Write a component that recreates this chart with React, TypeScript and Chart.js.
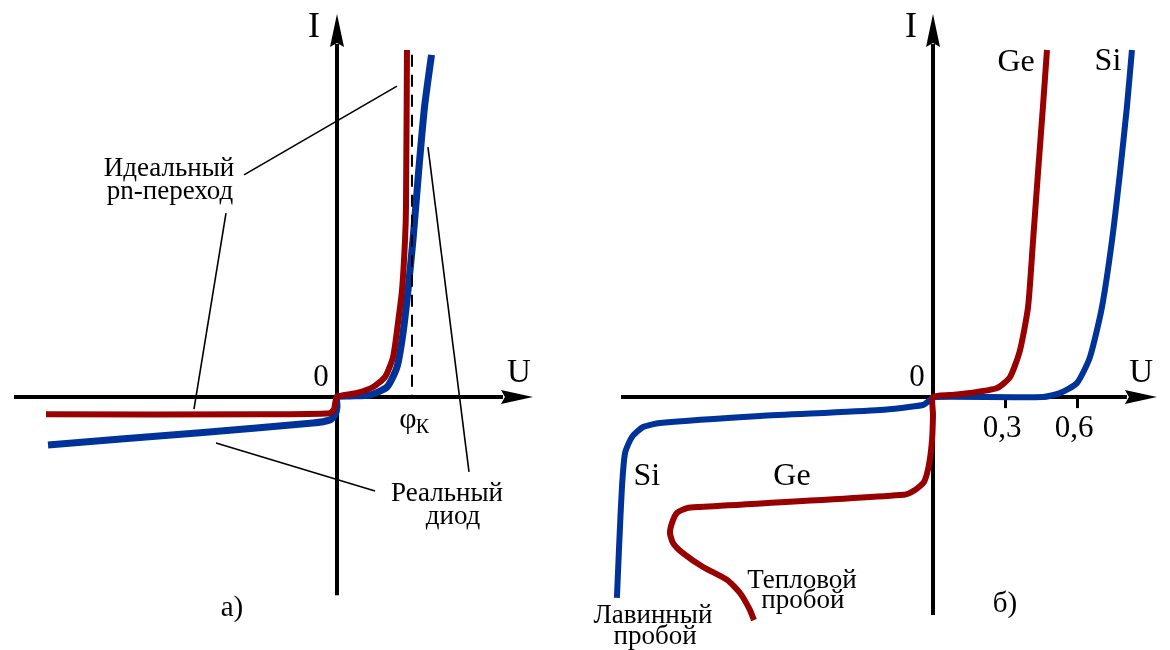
import React, { useEffect, useRef } from "react";
import { Chart, registerables } from "chart.js";

Chart.register(...registerables);

// ---------- Panel а) : ideal pn-junction vs real diode (U in units of φк, I arbitrary) ----------
const idealU = [-3.88, -1.0, -0.1, -0.04, 0, 0.267, 0.48, 0.64, 0.747, 0.813, 0.867, 0.907, 0.92, 0.933];
const idealI = [-5.0, -5.0, -4.7, -3.5, 0, 1.15, 2.88, 5.76, 11.5, 21.3, 30.8, 45.2, 54.8, 100];

const realU = [-3.853, -1.827, -0.32, -0.093, -0.027, 0, 0, 0.173, 0.44, 0.667, 0.8, 0.88, 0.947, 1.013, 1.087, 1.167, 1.26];
const realI = [-13.8, -10.3, -7.5, -6.6, -5.2, -2.9, 0, 0.29, 0.58, 2.88, 8.65, 18.4, 30.8, 45.2, 64.6, 83.6, 98.6];

const phiK = 1.0;
const phiKTopI = 98.6;

// ---------- Panel б) : Ge and Si diodes (U in volts, I arbitrary) ----------
const geU = [-0.746, -0.7625, -0.804, -0.858, -0.958, -1.042, -1.083, -1.096, -1.0875, -1.067, -1.025, -0.971, -0.121, -0.075, -0.0375, -0.017, -0.004, 0, 0, 0.071, 0.154, 0.267, 0.321, 0.3625, 0.396, 0.417, 0.4375, 0.458, 0.475];
const geI = [-64.3, -61.4, -56.5, -52.7, -49.0, -45.0, -42.1, -39.2, -36.3, -33.4, -32.0, -31.7, -28.2, -26.8, -24.5, -19.6, -12.4, -5.2, 0, 0.58, 1.15, 2.59, 5.76, 13.5, 25.9, 45.2, 64.6, 83.6, 100];

const siU = [-1.317, -1.308, -1.296, -1.283, -1.254, -1.208, -1.1375, -0.721, -0.221, -0.042, -0.0125, 0, 0.458, 0.529, 0.6, 0.654, 0.704, 0.746, 0.779, 0.808, 0.829];
const siI = [-57.9, -43.2, -25.9, -16.1, -11.5, -8.65, -7.49, -5.48, -3.75, -2.31, -0.86, 0, 0, 1.15, 4.03, 11.5, 25.9, 45.2, 64.6, 83.6, 100];

const tickU = [0.3, 0.6];
const tickLabels = ["0,3", "0,6"];

// ---------- styles ----------
const RED = "#990000";
const BLUE = "#003399";
const FONT = '"Liberation Serif", "Times New Roman", serif';

function zip(u: number[], i: number[]) {
  return u.map((x, k) => ({ x, y: i[k] }));
}

type TextItem = { t: string; u: number; i: number; size: number };
type Decor = {
  axisX: [number, number];
  axisY: [number, number];
  texts: TextItem[];
  leaders: [number, number, number, number][];
  ticks?: number[];
  tickLabels?: string[];
  tickLabelI?: number;
  tickDepthI?: number;
};

function makeDecor(d: Decor) {
  return {
    id: "decor",
    beforeDatasetsDraw(chart: any) {
      const ctx = chart.ctx as CanvasRenderingContext2D;
      const xs = chart.scales.x;
      const ys = chart.scales.y;
      const px = (v: number) => xs.getPixelForValue(v);
      const py = (v: number) => ys.getPixelForValue(v);
      const x0 = Math.round(px(0));
      const y0 = Math.round(py(0));
      ctx.save();
      ctx.strokeStyle = "#000";
      ctx.fillStyle = "#000";
      ctx.lineWidth = 4;
      ctx.lineCap = "butt";
      // x axis
      const xl = px(d.axisX[0]);
      const xr = px(d.axisX[1]);
      const aL = 32;
      const aW = 7;
      ctx.beginPath();
      ctx.moveTo(xl, y0);
      ctx.lineTo(xr - aL + 2, y0);
      ctx.stroke();
      ctx.beginPath();
      ctx.moveTo(xr, y0);
      ctx.lineTo(xr - aL, y0 - aW);
      ctx.lineTo(xr - aL + 4, y0);
      ctx.lineTo(xr - aL, y0 + aW);
      ctx.closePath();
      ctx.fill();
      // y axis
      const yb = py(d.axisY[0]);
      const yt = py(d.axisY[1]);
      ctx.beginPath();
      ctx.moveTo(x0, yb);
      ctx.lineTo(x0, yt + aL - 2);
      ctx.stroke();
      ctx.beginPath();
      ctx.moveTo(x0, yt);
      ctx.lineTo(x0 - aW, yt + aL + 1);
      ctx.lineTo(x0, yt + aL - 3);
      ctx.lineTo(x0 + aW, yt + aL + 1);
      ctx.closePath();
      ctx.fill();
      // ticks
      if (d.ticks) {
        ctx.lineWidth = 3;
        d.ticks.forEach((t) => {
          const tx = Math.round(px(t)) + 0.5;
          ctx.beginPath();
          ctx.moveTo(tx, y0);
          ctx.lineTo(tx, py(d.tickDepthI ?? -3.2));
          ctx.stroke();
        });
      }
      // leader lines
      ctx.lineWidth = 1.6;
      d.leaders.forEach(([u1, i1, u2, i2]) => {
        ctx.beginPath();
        ctx.moveTo(px(u1), py(i1));
        ctx.lineTo(px(u2), py(i2));
        ctx.stroke();
      });
      ctx.restore();
    },
    afterDatasetsDraw(chart: any) {
      const ctx = chart.ctx as CanvasRenderingContext2D;
      const xs = chart.scales.x;
      const ys = chart.scales.y;
      ctx.save();
      ctx.fillStyle = "#000";
      ctx.textAlign = "center";
      ctx.textBaseline = "middle";
      d.texts.forEach((t) => {
        ctx.font = `${t.size}px ${FONT}`;
        ctx.fillText(t.t, xs.getPixelForValue(t.u), ys.getPixelForValue(t.i));
      });
      if (d.ticks && d.tickLabels) {
        ctx.font = `31px ${FONT}`;
        d.ticks.forEach((t, k) => {
          ctx.fillText(d.tickLabels![k], xs.getPixelForValue(t) - 3, ys.getPixelForValue(d.tickLabelI ?? -9.2));
        });
      }
      ctx.restore();
    },
  };
}

function lineDs(data: { x: number; y: number }[], color: string, width: number, extra: any = {}) {
  return {
    data,
    showLine: true,
    borderColor: color,
    backgroundColor: color,
    borderWidth: width,
    pointRadius: 0,
    tension: 0.2,
    borderJoinStyle: "round",
    clip: false,
    fill: false,
    ...extra,
  };
}

function Panel(props: {
  datasets: any[];
  xMin: number;
  xMax: number;
  yMin: number;
  yMax: number;
  decor: Decor;
}) {
  const ref = useRef<HTMLCanvasElement | null>(null);
  useEffect(() => {
    if (!ref.current) return;
    const chart = new Chart(ref.current, {
      type: "scatter",
      data: { datasets: props.datasets },
      options: {
        animation: false,
        responsive: false,
        devicePixelRatio: 1,
        events: [],
        layout: { padding: 0 },
        plugins: { legend: { display: false }, tooltip: { enabled: false } },
        scales: {
          x: { type: "linear", min: props.xMin, max: props.xMax, display: false },
          y: { type: "linear", min: props.yMin, max: props.yMax, display: false },
        },
      } as any,
      plugins: [makeDecor(props.decor) as any],
    });
    return () => chart.destroy();
  }, []);
  return <canvas ref={ref} width={585} height={650} style={{ display: "block" }} />;
}

export default function App() {
  const dsA = [
    lineDs(
      [
        { x: phiK, y: phiKTopI },
        { x: phiK, y: 0 },
      ],
      "#000",
      2,
      { borderDash: [12, 8], tension: 0 }
    ),
    lineDs(zip(idealU, idealI), RED, 6),
    lineDs(zip(realU, realI), BLUE, 7),
  ];
  const decorA: Decor = {
    axisX: [-4.307, 2.613],
    axisY: [-57.1, 110.4],
    leaders: [
      [-1.24, 64.0, 0.8, 89.6],
      [-1.48, 53.0, -1.907, -3.5],
      [0.507, -27.1, -1.613, -13.26],
      [1.76, -21.6, 1.213, 72.0],
    ],
    texts: [
      { t: "I", u: -0.307, i: 106.6, size: 36 },
      { t: "0", u: -0.213, i: 5.48, size: 31 },
      { t: "U", u: 2.427, i: 6.92, size: 33 },
      { t: "φ", u: 0.947, i: -6.6, size: 30 },
      { t: "К", u: 1.14, i: -9.0, size: 20 },
      { t: "Идеальный", u: -2.24, i: 65.7, size: 27 },
      { t: "pn-переход", u: -2.227, i: 59.1, size: 27 },
      { t: "Реальный", u: 1.467, i: -27.95, size: 27 },
      { t: "диод", u: 1.547, i: -34.6, size: 27 },
      { t: "а)", u: -1.4, i: -60.8, size: 29 },
    ],
  };

  const dsB = [lineDs(zip(geU, geI), RED, 6), lineDs(zip(siU, siI), BLUE, 6)];
  const decorB: Decor = {
    axisX: [-1.3, 0.933],
    axisY: [-62.8, 110.4],
    leaders: [],
    ticks: tickU,
    tickLabels: tickLabels,
    tickLabelI: -9.2,
    tickDepthI: -3.2,
    texts: [
      { t: "I", u: -0.0917, i: 106.6, size: 36 },
      { t: "Ge", u: 0.346, i: 96.5, size: 32 },
      { t: "Si", u: 0.729, i: 96.8, size: 32 },
      { t: "0", u: -0.0667, i: 5.48, size: 31 },
      { t: "U", u: 0.867, i: 6.92, size: 33 },
      { t: "Si", u: -1.192, i: -22.8, size: 32 },
      { t: "Ge", u: -0.5875, i: -23.05, size: 32 },
      { t: "Тепловой", u: -0.546, i: -53.0, size: 27 },
      { t: "пробой", u: -0.542, i: -58.8, size: 27 },
      { t: "Лавинный", u: -1.167, i: -63.1, size: 27 },
      { t: "пробой", u: -1.158, i: -69.2, size: 27 },
      { t: "б)", u: 0.3, i: -59.65, size: 29 },
    ],
  };

  return (
    <div
      style={{
        position: "absolute",
        left: 0,
        top: 0,
        width: 1170,
        height: 650,
        display: "flex",
        background: "#fff",
      }}
    >
      <Panel datasets={dsA} xMin={-4.4933} xMax={3.3067} yMin={-72.91} yMax={114.41} decor={decorA} />
      <Panel datasets={dsB} xMin={-1.45} xMax={0.9875} yMin={-72.91} yMax={114.41} decor={decorB} />
    </div>
  );
}
